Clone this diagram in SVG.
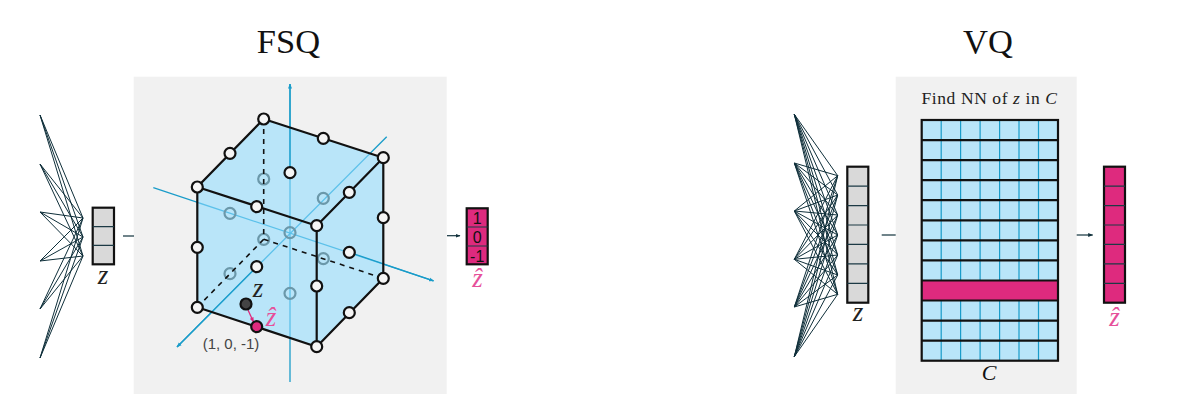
<svg xmlns="http://www.w3.org/2000/svg" width="1192" height="405" viewBox="0 0 1192 405">
<style>
.title{font-family:"Liberation Serif",serif;font-size:34.5px;fill:#111;text-anchor:middle}
.m{font-family:"Liberation Serif",serif;font-style:italic;font-size:27px;fill:#222;text-anchor:middle}
.h{fill:#e6509a}
.panel{fill:#f1f1f1}
.net{fill:none;stroke:#0f2f3a;stroke-width:1}
.vec{fill:#d9d9d9;stroke:#111;stroke-width:2.2}
.vecp{fill:#de2a7e;stroke:#111;stroke-width:2.2}
.div{stroke:#1c3a45;stroke-width:1.2;fill:none}
.ax{stroke:#1a9cc9;stroke-width:1.3;fill:none}
.axl{stroke:#5cc1ea;stroke-width:1.3;fill:none}
.edge{stroke:#111;stroke-width:2.2;fill:none;stroke-linecap:round}
.dash{stroke:#111;stroke-width:1.6;stroke-dasharray:5 5;fill:none}
.pt{fill:#f5f5f5;stroke:#111;stroke-width:2.2}
.bk{fill:none;stroke:#6b98aa;stroke-width:2.2}
.arr{stroke:#12323d;stroke-width:1.2;fill:none}
.cell{fill:#b9e5f9}
.gv{stroke:#1a9cc9;stroke-width:1.2;fill:none}
.gh{stroke:#111;stroke-width:2.2;fill:none}
.num{font-family:"Liberation Sans",sans-serif;font-size:16px;fill:#111;text-anchor:middle}
</style>
<defs>
<marker id="ah" markerWidth="5" markerHeight="5" refX="4.5" refY="2.5" orient="auto" markerUnits="userSpaceOnUse"><path d="M0 .5L5 2.5L0 4.5z" fill="#12323d"/></marker>
<marker id="ab" markerWidth="5" markerHeight="5" refX="4.5" refY="2.5" orient="auto" markerUnits="userSpaceOnUse"><path d="M0 .5L5 2.5L0 4.5z" fill="#1a9cc9"/></marker>
<marker id="ap" markerWidth="5" markerHeight="5" refX="4.5" refY="2.5" orient="auto" markerUnits="userSpaceOnUse"><path d="M0 .5L5 2.5L0 4.5z" fill="#de2a7e"/></marker>
<clipPath id="hex"><path d="M263.7 119L383.3 157.7V278.3L316.7 346.7L197.3 307.3V187z"/></clipPath>
</defs>
<rect width="1192" height="405" fill="#fff"/>
<g id="title-fsq"><text class="title" x="288.5" y="53">FSQ</text></g>
<g id="title-vq"><text class="title" x="988" y="53">VQ</text></g>

<g id="panel-fsq"><rect class="panel" x="133.7" y="76.7" width="313" height="317.3"/></g>
<g id="panel-vq"><rect class="panel" x="895.7" y="76.7" width="181" height="317.3"/></g>

<g id="connectors">
<path class="net" d="M40 115L83 218M40 115L83 237M40 115L83 256M40 164L83 218M40 164L83 237M40 164L83 256M40 212L83 218M40 212L83 237M40 212L83 256M40 261L83 218M40 261L83 237M40 261L83 256M40 309L83 218M40 309L83 237M40 309L83 256M40 358L83 218M40 358L83 237M40 358L83 256"/>
<path class="net" d="M794.3 114.3L837.7 175.7M794.3 114.3L837.7 195M794.3 114.3L837.7 215M794.3 114.3L837.7 235M794.3 114.3L837.7 255M794.3 114.3L837.7 275M794.3 114.3L837.7 294.3M794.3 163L837.7 175.7M794.3 163L837.7 195M794.3 163L837.7 215M794.3 163L837.7 235M794.3 163L837.7 255M794.3 163L837.7 275M794.3 163L837.7 294.3M794.3 211L837.7 175.7M794.3 211L837.7 195M794.3 211L837.7 215M794.3 211L837.7 235M794.3 211L837.7 255M794.3 211L837.7 275M794.3 211L837.7 294.3M794.3 259.3L837.7 175.7M794.3 259.3L837.7 195M794.3 259.3L837.7 215M794.3 259.3L837.7 235M794.3 259.3L837.7 255M794.3 259.3L837.7 275M794.3 259.3L837.7 294.3M794.3 307L837.7 175.7M794.3 307L837.7 195M794.3 307L837.7 215M794.3 307L837.7 235M794.3 307L837.7 255M794.3 307L837.7 275M794.3 307L837.7 294.3M794.3 356.7L837.7 175.7M794.3 356.7L837.7 195M794.3 356.7L837.7 215M794.3 356.7L837.7 235M794.3 356.7L837.7 255M794.3 356.7L837.7 275M794.3 356.7L837.7 294.3"/>
<path class="arr" d="M123 236H134"/>
<path class="arr" d="M447 235.7H460" marker-end="url(#ah)"/>
<path class="arr" d="M881.7 235H895.7"/>
<path class="arr" d="M1076.7 235H1092.7" marker-end="url(#ah)"/>
</g>

<g id="cube">
<path class="ax" d="M290 382V84" marker-end="url(#ab)"/>
<path class="ax" d="M386.7 136.7L177 347" marker-end="url(#ab)"/>
<path class="ax" d="M153.3 187.7L433.5 280.8" marker-end="url(#ab)"/>
<path d="M263.7 119L383.3 157.7V278.3L316.7 346.7L197.3 307.3V187z" fill="#b9e5f9"/>
<g clip-path="url(#hex)">
<path class="axl" d="M290 382V84"/>
<path class="axl" d="M386.7 136.7L177 347"/>
<path class="axl" d="M153.3 187.7L433.5 280.8"/>
</g>
<g class="bk">
<circle cx="263.7" cy="179" r="5.5"/><circle cx="230" cy="213.3" r="5.5"/><circle cx="263.7" cy="239.3" r="5.5"/><circle cx="290" cy="232.7" r="5.5"/><circle cx="323.3" cy="198.3" r="5.5"/><circle cx="323.3" cy="258.7" r="5.5"/><circle cx="230" cy="273.7" r="5.5"/><circle cx="290" cy="293.3" r="5.5"/>
</g>
<path class="ax" d="M290 172.7V84"/>
<path class="ax" d="M256.7 266.7L177 347"/>
<path class="ax" d="M349.3 252.3L433.5 280.8"/>
<path class="dash" d="M263.7 119V239.3"/>
<path class="dash" d="M263.7 239.3L197.3 307.3"/>
<path class="dash" d="M263.7 239.3L383.3 278.3"/>
<path class="edge" d="M263.7 119L383.3 157.7V278.3L316.7 346.7L197.3 307.3V187z"/>
<path class="edge" d="M197.3 187L316.7 225.7V346.7"/>
<path class="edge" d="M316.7 225.7L383.3 157.7"/>
<g class="pt">
<circle cx="263.7" cy="119" r="5.5"/><circle cx="383.3" cy="157.7" r="5.5"/><circle cx="197.3" cy="187" r="5.5"/><circle cx="316.7" cy="225.7" r="5.5"/><circle cx="316.7" cy="346.7" r="5.5"/><circle cx="197.3" cy="307.3" r="5.5"/><circle cx="383.3" cy="278.3" r="5.5"/>
<circle cx="230" cy="153.3" r="5.5"/><circle cx="323.3" cy="138.3" r="5.5"/><circle cx="290" cy="172.7" r="5.5"/><circle cx="256.7" cy="206.7" r="5.5"/><circle cx="349.3" cy="192.3" r="5.5"/><circle cx="383.3" cy="217.7" r="5.5"/><circle cx="197.3" cy="247.3" r="5.5"/><circle cx="256.7" cy="266.7" r="5.5"/><circle cx="349.3" cy="252.3" r="5.5"/><circle cx="316.7" cy="286" r="5.5"/><circle cx="349.3" cy="312.7" r="5.5"/>
</g>
<path d="M248 310L253.5 322" stroke="#de2a7e" stroke-width="1.3" fill="none" marker-end="url(#ap)"/>
<circle cx="246" cy="304" r="5.5" fill="#444" stroke="#111" stroke-width="2.2"/>
<circle cx="256.7" cy="326.7" r="5.5" fill="#de2a7e" stroke="#111" stroke-width="2.2"/>
<text class="m" x="258" y="297">z</text>
<text class="m h" x="271" y="326">ẑ</text>
<text x="231" y="349" font-family="Liberation Sans, sans-serif" font-size="15" fill="#444" text-anchor="middle">(1, 0, -1)</text>
</g>

<g id="z-fsq">
<rect class="vec" x="92.7" y="207.7" width="21.3" height="56.6"/>
<path class="div" d="M92.7 226.6H114M92.7 245.4H114"/>
<text class="m" x="103" y="284">z</text>
</g>
<g id="zhat-fsq">
<rect class="vecp" x="466.7" y="208.3" width="21" height="56"/>
<path class="div" d="M466.7 227H487.7M466.7 246H487.7"/>
<text class="num" x="477.2" y="224">1</text>
<text class="num" x="477.2" y="243">0</text>
<text class="num" x="477.2" y="262">-1</text>
<text class="m h" x="477.5" y="287">ẑ</text>
</g>

<g id="z-vq">
<rect class="vec" x="847.3" y="166.7" width="21" height="136"/>
<path class="div" d="M847.3 186.1H868.3M847.3 205.6H868.3M847.3 225H868.3M847.3 244.4H868.3M847.3 263.9H868.3M847.3 283.3H868.3"/>
<text class="m" x="858" y="321">z</text>
</g>

<g id="codebook">
<text x="989.5" y="104" font-family="Liberation Serif, serif" font-size="17.5" letter-spacing=".6" fill="#222" text-anchor="middle">Find NN of <tspan font-style="italic">z</tspan> in <tspan font-style="italic">C</tspan></text>
<rect class="cell" x="921.7" y="120" width="136.3" height="240.7"/>
<path class="gv" d="M941.2 120V360.7M960.6 120V360.7M980.1 120V360.7M999.6 120V360.7M1019 120V360.7M1038.5 120V360.7"/>
<rect x="921.7" y="280.5" width="136.3" height="20.1" fill="#de2a7e"/>
<path class="gh" d="M921.7 140.1H1058M921.7 160.1H1058M921.7 180.2H1058M921.7 200.2H1058M921.7 220.3H1058M921.7 240.4H1058M921.7 260.4H1058M921.7 280.5H1058M921.7 300.5H1058M921.7 320.6H1058M921.7 340.6H1058"/>
<rect x="921.7" y="120" width="136.3" height="240.7" fill="none" stroke="#111" stroke-width="2.2"/>
<text class="m" x="989" y="380" style="font-size:22px;fill:#111">C</text>
</g>

<g id="zhat-vq">
<rect class="vecp" x="1104" y="166.7" width="21" height="136"/>
<path class="div" d="M1104 186.1H1125M1104 205.6H1125M1104 225H1125M1104 244.4H1125M1104 263.9H1125M1104 283.3H1125"/>
<text class="m h" x="1114.5" y="326">ẑ</text>
</g>
</svg>
